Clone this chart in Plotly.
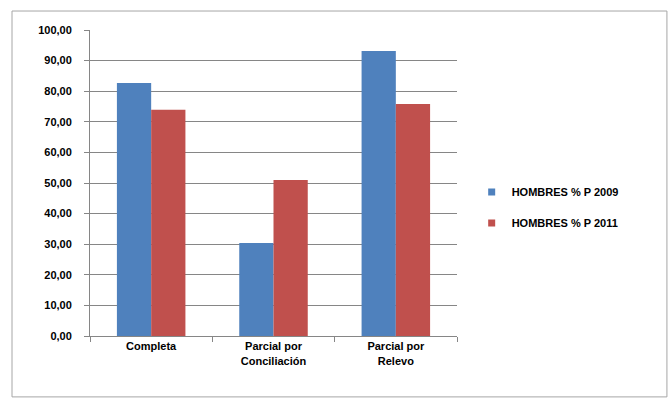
import plotly.graph_objects as go

categories = ["Completa", "Parcial por<br>Conciliación", "Parcial por<br>Relevo"]
hombres_2009 = [82.7, 30.4, 93.1]
hombres_2011 = [73.9, 51.0, 75.8]
series_names = ["HOMBRES % P 2009", "HOMBRES % P 2011"]
series_colors = ["#4F81BD", "#C0504D"]
y_ticks = [0, 10, 20, 30, 40, 50, 60, 70, 80, 90, 100]

FONT = "Liberation Sans Narrow, Arial Narrow, Liberation Sans, Arial, sans-serif"

fig = go.Figure()
for name, values, color in zip(series_names, [hombres_2009, hombres_2011], series_colors):
    fig.add_trace(go.Bar(x=categories, y=values, name=name, legendgroup=name,
                         showlegend=False,
                         marker=dict(color=color, line=dict(width=0))))
    # small square legend key
    fig.add_trace(go.Scatter(x=[categories[0]], y=[None], mode="markers", name=name,
                             legendgroup=name, showlegend=True,
                             marker=dict(symbol="square", size=7, color=color)))

fig.update_layout(
    width=672, height=403,
    margin=dict(l=90, r=215, t=30, b=67),
    paper_bgcolor="white", plot_bgcolor="white",
    barmode="group", bargap=0.44, bargroupgap=0,
    separators=",.",
    font=dict(family=FONT, size=11, color="#000000"),
    showlegend=True,
    legend=dict(x=1.04, y=0.42, xanchor="left", yanchor="middle",
                font=dict(family=FONT, size=11, color="#000000", weight="bold"),
                itemwidth=30, tracegroupgap=12, bgcolor="rgba(0,0,0,0)"),
    xaxis=dict(showline=True, linecolor="#868686", linewidth=1,
               ticks="outside", tickson="boundaries", ticklen=5, tickcolor="#868686",
               tickfont=dict(family=FONT, size=11, color="#000000", weight="bold"),
               showgrid=False),
    yaxis=dict(range=[0, 100], tickvals=y_ticks, tickformat=".2f",
               showline=True, linecolor="#868686", linewidth=1,
               ticks="outside", ticklen=5, tickcolor="#868686",
               ticklabelstandoff=10,
               gridcolor="#868686", gridwidth=1,
               tickfont=dict(family=FONT, size=11, color="#000000", weight="bold"),
               zeroline=False),
    shapes=[dict(type="rect", xref="paper", yref="paper",
                 x0=-0.2125, x1=1.572, y0=-0.199, y1=1.062,
                 line=dict(color="#A6A6A6", width=1), fillcolor="rgba(0,0,0,0)",
                 layer="below")],
)

fig.write_html("out.html")
